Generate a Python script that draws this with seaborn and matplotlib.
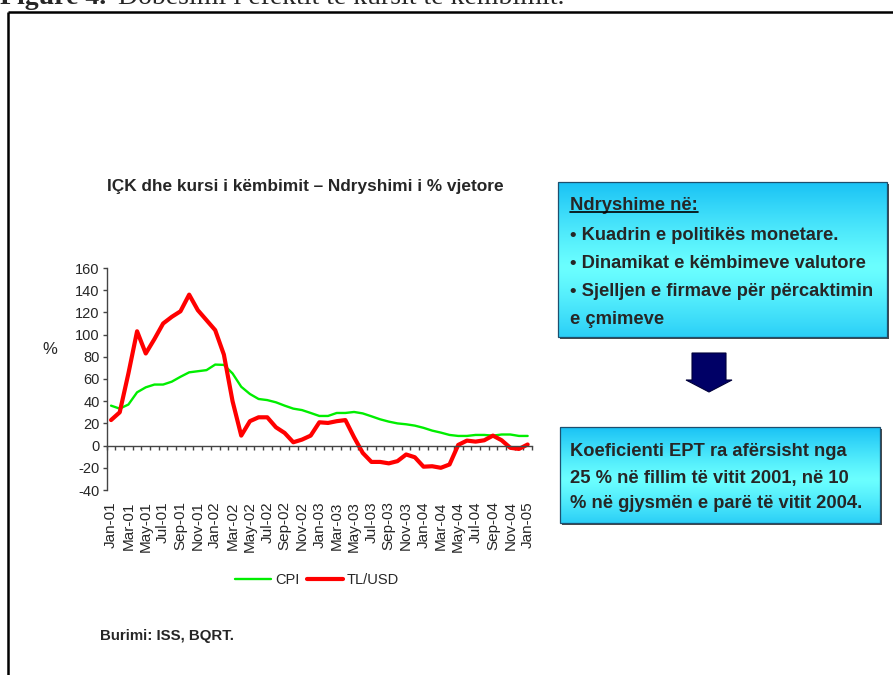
import numpy as np
import pandas as pd
import matplotlib
matplotlib.use("Agg")
import matplotlib.pyplot as plt
import seaborn as sns
from matplotlib.patches import Rectangle, Polygon

# ---------------- data ----------------
tick_labels = ["Jan-01", "Mar-01", "May-01", "Jul-01", "Sep-01", "Nov-01",
               "Jan-02", "Mar-02", "May-02", "Jul-02", "Sep-02", "Nov-02",
               "Jan-03", "Mar-03", "May-03", "Jul-03", "Sep-03", "Nov-03",
               "Jan-04", "Mar-04", "May-04", "Jul-04", "Sep-04", "Nov-04",
               "Jan-05"]

cpi = [36, 33.3, 37, 48, 52.5, 55, 55, 57.6, 62, 66, 67, 68, 73, 72.7, 65, 53,
       46.5, 42, 41, 39, 36, 33.3, 32, 29.4, 26.7, 26.7, 29.4, 29.4, 30.3, 29,
       26.4, 23.7, 21.6, 20, 19.2, 18, 16, 13.5, 11.7, 9.6, 8.7, 8.7, 9.6, 9.6,
       9, 10, 10, 8.7, 8.7]

tl_usd = [23, 30, 65, 103, 83, 96, 110, 116, 121, 136, 122, 113, 104, 82, 40, 9,
          22, 25.5, 25.5, 16.5, 11.4, 3, 5.4, 9, 21, 20.4, 22, 23, 7.5, -6.6,
          -14.7, -14.7, -16, -14, -8, -10.5, -19, -18.6, -20, -17, 0.6, 4.5,
          3.6, 4.8, 9, 4.8, -2, -3, 1]

series_names = ["CPI", "TL/USD"]
y_ticks = [-40, -20, 0, 20, 40, 60, 80, 100, 120, 140, 160]

chart_title = "IÇK dhe kursi i këmbimit – Ndryshimi i % vjetore"
source_text = "Burimi: ISS, BQRT."
box1_lines = ["Ndryshime në:", "• Kuadrin e politikës monetare.",
              "• Dinamikat e këmbimeve valutore",
              "• Sjelljen e firmave për përcaktimin", "e çmimeve"]
box2_lines = ["Koeficienti EPT ra afërsisht nga",
              "25 % në fillim të vitit 2001, në 10",
              "% në gjysmën e parë të vitit 2004."]
caption_bold = "Figure 4."
caption_rest = "Dobësimi i efektit të kursit të këmbimit."

# ---------------- style ----------------
sns.set_style("white")
plt.rcParams["font.family"] = ["Liberation Sans", "DejaVu Sans"]

W, H = 893, 675
fig = plt.figure(figsize=(W / 100, H / 100), dpi=100)

# overlay axes in pixel coordinates (y downward)
ov = fig.add_axes([0, 0, 1, 1])
ov.set_xlim(0, W)
ov.set_ylim(H, 0)
ov.axis("off")
ov.patch.set_alpha(0)

# chart axes
x0, x1, ytop, ybot = 106.7, 532.0, 268.0, 490.0
ax = fig.add_axes([x0 / W, 1 - ybot / H, (x1 - x0) / W, (ybot - ytop) / H])
ax.patch.set_alpha(0)

n = len(cpi)
idx = list(range(n))
df = pd.DataFrame({
    "month": idx + idx,
    "value": cpi + tl_usd,
    "series": [series_names[0]] * n + [series_names[1]] * n,
})
sns.lineplot(data=df[df.series == "CPI"], x="month", y="value", ax=ax,
             color="#00EE00", linewidth=1.7, label="CPI")
sns.lineplot(data=df[df.series == "TL/USD"], x="month", y="value", ax=ax,
             color="#FF0000", linewidth=3.0, label="TL/USD")

ax.set_xlim(-0.5, n - 0.5)
ax.set_ylim(-40, 160)
ax.set_yticks(y_ticks)
ax.set_yticklabels([str(v) for v in y_ticks], fontsize=10.5)
ax.set_xlabel("")
ax.set_ylabel("%", rotation=0, fontsize=12)
ax.yaxis.set_label_coords(-0.134, 0.60)

for s in ["top", "right"]:
    ax.spines[s].set_visible(False)
ax.spines["left"].set_color("#444444")
ax.spines["left"].set_linewidth(1.0)
ax.spines["bottom"].set_position(("data", 0))
ax.spines["bottom"].set_color("#444444")
ax.spines["bottom"].set_linewidth(1.0)

ax.set_xticks(idx[::2])
ax.set_xticklabels(tick_labels, rotation=90, fontsize=11)
ax.set_xticks(np.arange(-0.5, n, 1.0), minor=True)
ax.tick_params(axis="x", which="major", length=0, pad=40)
ax.tick_params(axis="x", which="minor", length=3, width=1, color="#444444",
               direction="out", bottom=True)
ax.tick_params(axis="y", which="major", length=3, width=1, color="#444444",
               direction="out", left=True, pad=2)

handles, labels = ax.get_legend_handles_labels()
ax.get_legend().remove()
fig.legend(handles, labels, loc="center", bbox_to_anchor=(317 / W, 1 - 580 / H),
           ncol=2, frameon=False, fontsize=10.5, handlelength=2.5,
           handletextpad=0.25, columnspacing=0.5)

fig.text(305 / W, 1 - 186 / H, chart_title, ha="center", va="center",
         fontsize=12.4, fontweight="bold")
ov.text(100, 636, source_text, ha="left", va="center", fontsize=10.8,
        fontweight="bold")

# frame lines
ov.plot([8, W + 5], [12, 12], color="black", lw=1.8, solid_capstyle="butt")
ov.plot([8, 8], [12, H + 5], color="black", lw=1.8, solid_capstyle="butt")

# caption (cut off at top)
serif = ["Liberation Serif", "DejaVu Serif"]
cap1 = ov.text(0, 4, caption_bold, ha="left", va="baseline", fontsize=20,
               fontweight="bold", family=serif)
fig.canvas.draw()
cb = cap1.get_window_extent(fig.canvas.get_renderer())
cx_end = ov.transData.inverted().transform([[cb.x1, cb.y0]])[0][0]
ov.text(cx_end + 12, 4, caption_rest, ha="left", va="baseline", fontsize=20,
        family=serif)


def grad_box(l, r, t, b):
    hgt = 200
    u = np.linspace(0, 1, hgt)
    d = np.abs(u - 0.55) / 0.55
    d = np.clip(d, 0, 1) ** 1.2
    top = np.array([0.10, 0.76, 0.96])
    mid = np.array([0.42, 1.00, 1.00])
    cols = mid[None, :] * (1 - d[:, None]) + top[None, :] * d[:, None]
    img = np.repeat(cols[:, None, :], 4, axis=1)
    ov.add_patch(Rectangle((l + 2, t + 2), r - l, b - t, facecolor="#4a4a4a",
                           edgecolor="none", zorder=1))
    ov.imshow(img, extent=(l, r, b, t), origin="upper", aspect="auto",
              zorder=2, interpolation="bilinear")
    ov.add_patch(Rectangle((l, t), r - l, b - t, facecolor="none",
                           edgecolor="#1d4f6e", lw=0.9, zorder=3))


grad_box(558, 887, 182, 337)
grad_box(560, 880, 427, 523)
ov.set_xlim(0, W)
ov.set_ylim(H, 0)

ys1 = [205, 235, 263, 292, 320]
txts = []
for yy, s in zip(ys1, box1_lines):
    txts.append(ov.text(570, yy, s, ha="left", va="center", fontsize=13.2,
                        fontweight="bold", zorder=4))
fig.canvas.draw()
bb = txts[0].get_window_extent(fig.canvas.get_renderer())
inv = ov.transData.inverted()
(ux0, uy0), (ux1, uy1) = inv.transform([[bb.x0, bb.y0], [bb.x1, bb.y0]])
ov.plot([ux0, ux1], [uy0 - 1.5, uy0 - 1.5], color="black", lw=1.2, zorder=4)

ys2 = [452, 478, 504]
for yy, s in zip(ys2, box2_lines):
    ov.text(570, yy, s, ha="left", va="center", fontsize=13.2,
            fontweight="bold", zorder=4)

# arrow
arrow = Polygon([[692, 353], [726, 353], [726, 380], [732, 380], [709, 392],
                 [686, 380], [692, 380]], closed=True, facecolor="#000066",
                edgecolor="#00003a", lw=0.8, zorder=3)
ov.add_patch(arrow)

fig.savefig("out.png", dpi=100)
